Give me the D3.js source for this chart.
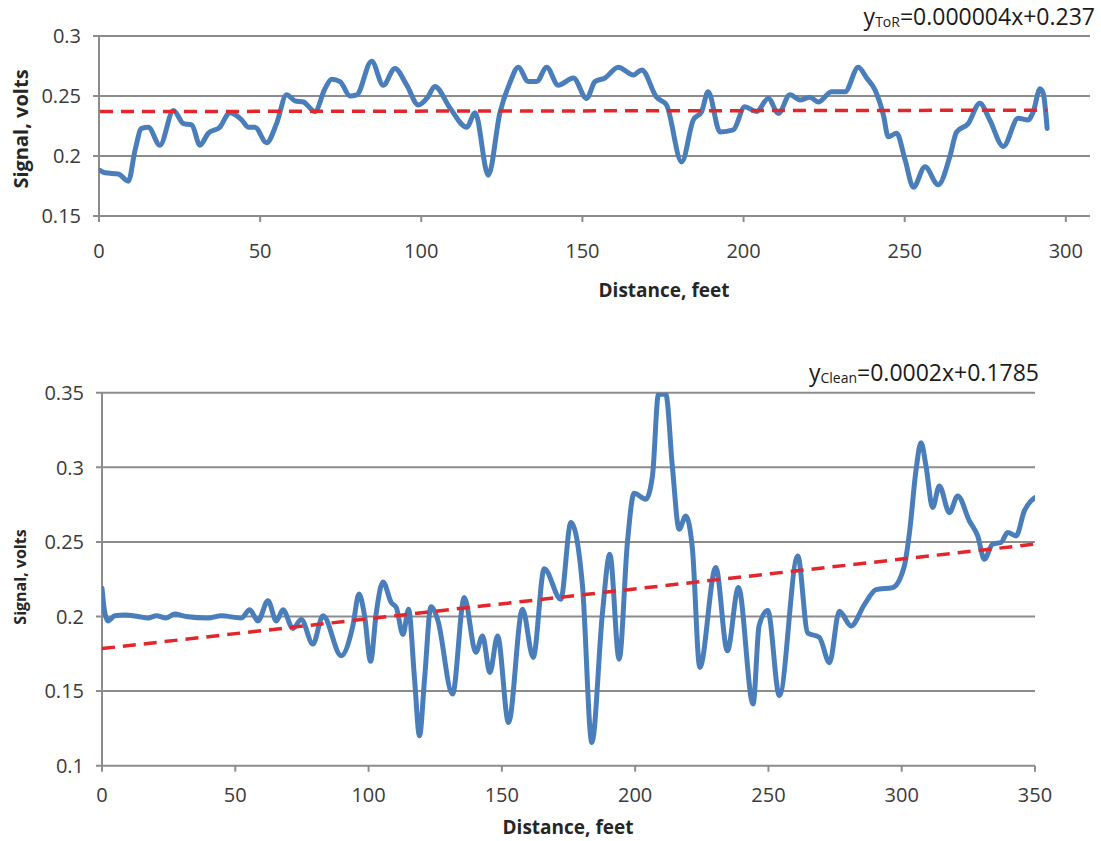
<!DOCTYPE html>
<html>
<head>
<meta charset="utf-8">
<script src="https://cdn.jsdelivr.net/npm/d3@7"></script>
<style>
  body { margin: 0; background: #fff; }
  text { font-family: "Open Sans", sans-serif; }
</style>
</head>
<body>
<div id="chart"></div>
<script>
// ---- top panel (ToR) ----
const torDistance = [0.3, 1.9, 6, 9.1, 11.2, 13.2, 15.3, 18.9, 23.1, 26.2, 28.8, 31.3, 33.9, 37.5, 40.6, 44.3, 46.3, 48.4, 52, 55.1,
  58.2, 60.8, 63.4, 67, 70.1, 72.2, 74.8, 77.9, 80, 84.6, 88.2, 91.8, 95.5, 99.1, 102, 104.2, 108.9, 114.1, 116.7, 120.8,
  124.4, 127.5, 130.1, 133.2, 135.8, 138.9, 142.5, 147.2, 151.3, 153.9, 157, 161.1, 165.8, 168.4, 173, 176.1, 180.8, 184.4, 187, 189,
  192.7, 196.8, 200.4, 204, 207.7, 210.8, 214.4, 217.5, 220.6, 223.2, 227.3, 231.5, 235.6, 238.2, 240.8, 243.4, 244.9, 247.5, 250.1, 252.7,
  256.3, 260.4, 264, 266.1, 269.7, 273.3, 276.4, 280.6, 285.2, 288.3, 289.9, 292, 293, 294.2]
const torSignal = [0.188, 0.186, 0.185, 0.179, 0.205, 0.223, 0.224, 0.209, 0.238, 0.227, 0.226, 0.209, 0.219, 0.224, 0.236, 0.230, 0.224, 0.224, 0.211, 0.227,
  0.251, 0.246, 0.245, 0.237, 0.256, 0.264, 0.262, 0.250, 0.251, 0.279, 0.259, 0.273, 0.259, 0.2425, 0.249, 0.258, 0.240, 0.224, 0.236, 0.184,
  0.236, 0.261, 0.274, 0.262, 0.262, 0.274, 0.259, 0.265, 0.248, 0.262, 0.265, 0.274, 0.2675, 0.2717, 0.249, 0.2425, 0.195, 0.230, 0.237, 0.2536,
  0.220, 0.2217, 0.241, 0.237, 0.248, 0.2355, 0.251, 0.2467, 0.249, 0.245, 0.2536, 0.2536, 0.274, 0.265, 0.255, 0.234, 0.216, 0.219, 0.197, 0.174,
  0.191, 0.176, 0.1994, 0.220, 0.227, 0.244, 0.230, 0.208, 0.2314, 0.230, 0.237, 0.256, 0.252, 0.223]
const torTrend = {slope: 0.000004, intercept: 0.237}
const torXTicks = [0, 50, 100, 150, 200, 250, 300]
const torYTicks = [0.15, 0.2, 0.25, 0.3]

// ---- bottom panel (Clean) ----
const cleanDistance = [0, 1, 2.25, 4.75, 8.5, 13.5, 17.25, 20.4, 24.1, 27.25, 31.6, 39.75, 44.75, 52.25, 55.4, 58.5, 62.25, 65.4, 67.9, 71.6,
  74.75, 79.1, 82.9, 89.75, 94.1, 96.4, 98.5, 100.75, 102.9, 105.4, 108.5, 110.4, 112.9, 115, 117.25, 119.1, 121, 123.4, 125.9, 131.5,
  135.9, 140.25, 142.75, 145.5, 148.4, 152.5, 157.75, 161.75, 165.9, 172.1, 175.9, 180.25, 183.75, 187.75, 190.5, 194, 197.1, 199.6, 204, 206.5,
  208.75, 211.5, 214, 216.5, 219, 221.5, 224.25, 230.25, 234.6, 238.75, 244.25, 246.5, 249.75, 254.1, 261, 264.75, 269.1, 272.9, 276.6, 281,
  286, 290.4, 296.6, 301, 302.9, 305.4, 307.25, 309.1, 311.6, 314.1, 317.9, 321, 325.4, 328.5, 331, 334.1, 337.25, 339.75, 342.9, 346,
  348.5, 350]
const cleanSignal = [0.219, 0.203, 0.197, 0.2005, 0.201, 0.200, 0.199, 0.2005, 0.199, 0.2016, 0.200, 0.199, 0.2005, 0.199, 0.2045, 0.197, 0.2105, 0.197, 0.2045, 0.192,
  0.198, 0.1815, 0.2005, 0.1737, 0.1937, 0.215, 0.2005, 0.170, 0.2027, 0.2232, 0.2094, 0.206, 0.188, 0.2049, 0.158, 0.120, 0.158, 0.2065, 0.198, 0.148,
  0.2127, 0.176, 0.187, 0.1625, 0.187, 0.129, 0.2049, 0.1726, 0.232, 0.2116, 0.263, 0.2205, 0.1156, 0.2027, 0.2417, 0.1714, 0.2496, 0.2826, 0.2786, 0.2942,
  0.349, 0.349, 0.2998, 0.2585, 0.2674, 0.245, 0.1659, 0.2328, 0.177, 0.2194, 0.1413, 0.1938, 0.204, 0.147, 0.2406, 0.189, 0.186, 0.169, 0.2036, 0.1937,
  0.208, 0.218, 0.2194, 0.234, 0.256, 0.2986, 0.3165, 0.301, 0.273, 0.2875, 0.2696, 0.2808, 0.264, 0.254, 0.2384, 0.2485, 0.2496, 0.2563, 0.254, 0.2708,
  0.2775, 0.2797]
const cleanTrend = {slope: 0.0002, intercept: 0.1785}
const cleanXTicks = [0, 50, 100, 150, 200, 250, 300, 350]
const cleanYTicks = [0.1, 0.15, 0.2, 0.25, 0.3, 0.35]

const gridColor = '#8c8c8c'
const lineColor = '#4a7ebb'
const trendColor = '#e3262b'

let svg = d3.select('#chart').append('svg')
  .attr('width', 1101)
  .attr('height', 841)

let drawPanel = function(p) {
  const x = d3.scaleLinear().domain(p.xDomain).range([p.left, p.right])
  const y = d3.scaleLinear().domain(p.yDomain).range([p.bottom, p.top])
  let g = svg.append('g')

  // horizontal gridlines
  g.selectAll('.grid')
    .data(p.yTicks)
    .enter()
    .append('line')
    .attr('x1', p.left - 6)
    .attr('x2', p.right)
    .attr('y1', d => y(d))
    .attr('y2', d => y(d))
    .attr('stroke', gridColor)
    .attr('stroke-width', 2)

  // y axis line
  g.append('line')
    .attr('x1', p.left).attr('x2', p.left)
    .attr('y1', p.top).attr('y2', p.bottom)
    .attr('stroke', gridColor)
    .attr('stroke-width', 2)

  // x ticks
  g.selectAll('.xtick')
    .data(p.xTicks)
    .enter()
    .append('line')
    .attr('x1', d => x(d)).attr('x2', d => x(d))
    .attr('y1', p.bottom).attr('y2', p.bottom + 6)
    .attr('stroke', gridColor)
    .attr('stroke-width', 2)

  g.selectAll('.xlabel')
    .data(p.xTicks)
    .enter()
    .append('text')
    .attr('x', d => x(d))
    .attr('y', p.xLabelY)
    .attr('text-anchor', 'middle')
    .attr('fill', '#3a3a3a')
    .style('font-size', '20px')
    .text(d => d)

  g.selectAll('.ylabel')
    .data(p.yTicks)
    .enter()
    .append('text')
    .attr('x', p.left - 18)
    .attr('y', d => y(d))
    .attr('dy', '0.36em')
    .attr('text-anchor', 'end')
    .attr('fill', '#3a3a3a')
    .style('font-size', '20px')
    .text(d => String(d))

  // axis titles
  g.append('text')
    .attr('x', p.xTitleX)
    .attr('y', p.xTitleY)
    .attr('text-anchor', 'middle')
    .attr('fill', '#262626')
    .style('font-size', '19px')
    .style('font-weight', 'bold')
    .text('Distance, feet')

  g.append('text')
    .attr('transform', 'translate(' + p.yTitleX + ',' + p.yTitleY + ') rotate(-90)')
    .attr('text-anchor', 'middle')
    .attr('dy', '0.35em')
    .attr('fill', '#262626')
    .style('font-size', p.yTitleSize + 'px')
    .style('font-weight', 'bold')
    .text('Signal, volts')

  // clip so the peak is cut at the top of the plot
  const clipId = 'clip' + p.name
  svg.append('clipPath').attr('id', clipId)
    .append('rect')
    .attr('x', p.left).attr('y', p.top)
    .attr('width', p.right - p.left).attr('height', p.bottom - p.top)

  const pts = p.distance.map((d, i) => ({x: d, y: p.signal[i]}))
  const line = d3.line()
    .x(d => x(d.x))
    .y(d => y(d.y))
    .curve(d3.curveMonotoneX)

  g.append('path')
    .datum(pts)
    .attr('clip-path', 'url(#' + clipId + ')')
    .attr('d', line)
    .attr('fill', 'none')
    .attr('stroke', lineColor)
    .attr('stroke-width', 5)
    .attr('stroke-linejoin', 'round')
    .attr('stroke-linecap', 'round')

  // linear trend line
  const tx = [p.trendFrom, p.trendTo]
  g.append('path')
    .datum(tx.map(d => ({x: d, y: p.trend.slope * d + p.trend.intercept})))
    .attr('d', d3.line().x(d => x(d.x)).y(d => y(d.y)))
    .attr('fill', 'none')
    .attr('stroke', trendColor)
    .attr('stroke-width', 3.5)
    .attr('stroke-dasharray', '13,8')

  // equation
  let eq = g.append('text')
    .attr('x', p.eqX)
    .attr('y', p.eqY)
    .attr('text-anchor', 'end')
    .attr('fill', '#1a1a1a')
    .style('font-size', '23px')
  eq.append('tspan').text('y')
  eq.append('tspan').attr('dy', 2).style('font-size', '14px').text(p.eqSub)
  eq.append('tspan').attr('dy', -2).text(p.eqText)
}

drawPanel({
  name: 'tor',
  distance: torDistance, signal: torSignal, trend: torTrend,
  xTicks: torXTicks, yTicks: torYTicks,
  xDomain: [0, 307.5], yDomain: [0.15, 0.3],
  left: 99, right: 1090, top: 36, bottom: 216,
  xLabelY: 258, xTitleX: 664, xTitleY: 297,
  yTitleX: 21, yTitleY: 129, yTitleSize: 20,
  trendFrom: 0.3, trendTo: 294.2,
  eqX: 1095, eqY: 25, eqSub: 'ToR', eqText: '=0.000004x+0.237'
})

drawPanel({
  name: 'clean',
  distance: cleanDistance, signal: cleanSignal, trend: cleanTrend,
  xTicks: cleanXTicks, yTicks: cleanYTicks,
  xDomain: [0, 350], yDomain: [0.1, 0.35],
  left: 102, right: 1035, top: 392.7, bottom: 765.7,
  xLabelY: 802, xTitleX: 568, xTitleY: 834,
  yTitleX: 20, yTitleY: 577, yTitleSize: 16,
  trendFrom: 0, trendTo: 350,
  eqX: 1039, eqY: 381, eqSub: 'Clean', eqText: '=0.0002x+0.1785'
})
</script>
</body>
</html>
